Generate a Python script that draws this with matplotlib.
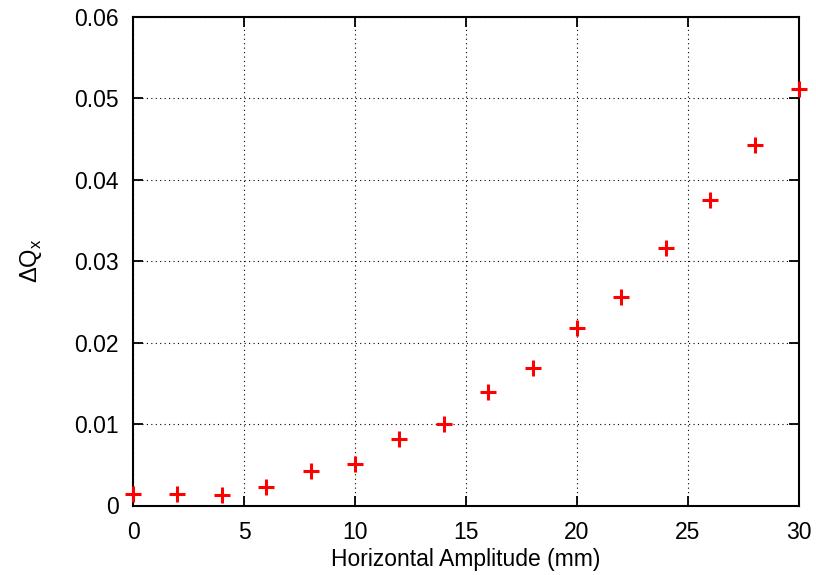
import matplotlib
matplotlib.use("Agg")
import matplotlib.pyplot as plt

amplitude_mm = [0, 2, 4, 6, 8, 10, 12, 14, 16, 18, 20, 22, 24, 26, 28, 30]
delta_qx = [0.0014, 0.0014, 0.0013, 0.0023, 0.0042, 0.0051, 0.0082, 0.0100,
            0.0139, 0.0169, 0.0218, 0.0256, 0.0316, 0.0375, 0.0442, 0.0511]
x_ticks = [0, 5, 10, 15, 20, 25, 30]
y_ticks = [0, 0.01, 0.02, 0.03, 0.04, 0.05, 0.06]
y_tick_labels = ["0", "0.01", "0.02", "0.03", "0.04", "0.05", "0.06"]

plt.rcParams['font.family'] = ['Liberation Sans', 'DejaVu Sans']
plt.rcParams['mathtext.fontset'] = 'custom'
plt.rcParams['mathtext.rm'] = 'Liberation Sans'

fig = plt.figure(figsize=(8.16, 5.75), dpi=100)
ax = fig.add_axes([133/816, 1 - 505.5/575, (799-133)/816, (505.5-16.7)/575])

ax.plot(amplitude_mm, delta_qx, linestyle='none', marker='+', color='#ff0000',
        markersize=12, markeredgewidth=2.2, clip_on=False, zorder=5)

ax.set_xlim(0, 30)
ax.set_ylim(0, 0.06)
ax.set_xticks(x_ticks)
ax.set_yticks(y_ticks)
ax.set_yticklabels(y_tick_labels)
ax.tick_params(direction='in', length=7, width=1.3, top=True, right=True,
               labelsize=16.5, pad=10)
ax.tick_params(axis='x', pad=11)
for s in ax.spines.values():
    s.set_linewidth(1.5)
ax.grid(True, color='black', linestyle=(0, (1, 3)), linewidth=0.8)
ax.set_axisbelow(True)

ax.set_xlabel('Horizontal Amplitude (mm)', fontsize=16.5, labelpad=3)
ax.set_ylabel(r'$\Delta\mathregular{Q}_\mathregular{x}$', fontsize=17, labelpad=22)

fig.savefig('out.png', dpi=100)
